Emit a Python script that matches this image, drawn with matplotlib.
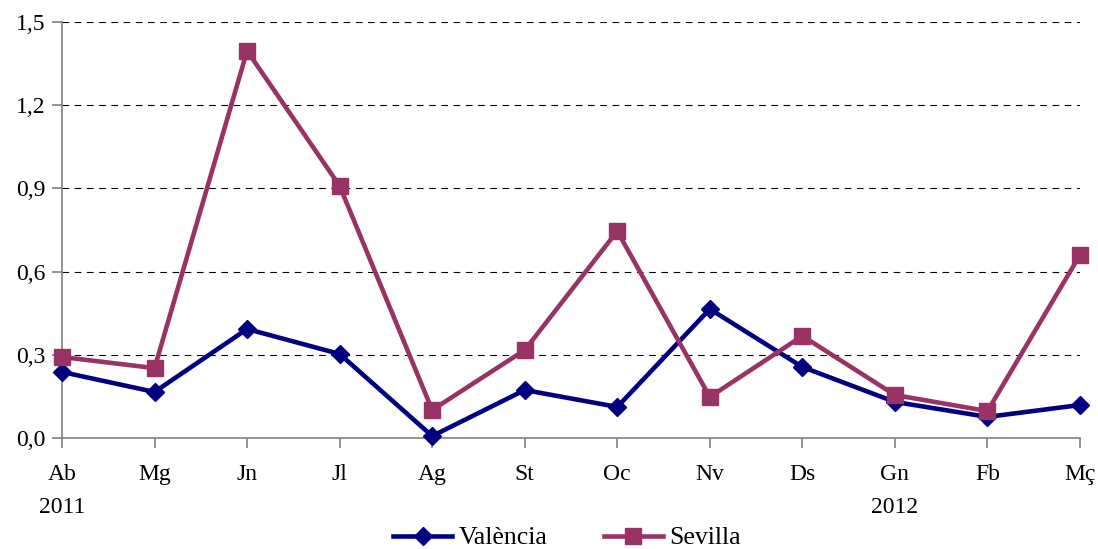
import matplotlib
matplotlib.use("Agg")
import matplotlib.pyplot as plt
from matplotlib.ticker import FuncFormatter

plt.rcParams['font.family'] = ['Liberation Serif', 'DejaVu Serif']

months = ["Ab", "Mg", "Jn", "Jl", "Ag", "St", "Oc", "Nv", "Ds", "Gn", "Fb", "Mç"]
years = {0: "2011", 9: "2012"}
valencia = [0.238, 0.166, 0.393, 0.303, 0.007, 0.173, 0.112, 0.465, 0.256, 0.130, 0.076, 0.119]
sevilla = [0.292, 0.252, 1.396, 0.909, 0.101, 0.317, 0.746, 0.148, 0.368, 0.155, 0.097, 0.660]
yticks = [0.0, 0.3, 0.6, 0.9, 1.2, 1.5]

fig = plt.figure(figsize=(10.98, 5.49), dpi=100)
ax = fig.add_axes([62/1098, 1-438/549, (1080-62)/1098, (438-22)/549])

x = list(range(len(months)))
for y in yticks[1:]:
    ax.axhline(y, color='black', lw=0.8, ls=(0, (6, 5)), zorder=1)

ax.plot(x, valencia, color='#000080', lw=3.3, marker='D', markersize=9.5, label='València',
        zorder=3, clip_on=False)
ax.plot(x, sevilla, color='#993366', lw=3.3, marker='s', markersize=11.5, label='Sevilla',
        zorder=4, clip_on=False)

ax.set_xlim(0, 11)
ax.set_ylim(0, 1.5)
ax.set_yticks(yticks)
ax.yaxis.set_major_formatter(FuncFormatter(lambda v, p: f"{v:.1f}".replace('.', ',')))
ax.set_xticks(x)
ax.set_xticklabels([m + ("\n" + years[i] if i in years else "\n") for i, m in enumerate(months)])

for s in ['top', 'right']:
    ax.spines[s].set_visible(False)
for s in ['left', 'bottom']:
    ax.spines[s].set_color('#808080')
    ax.spines[s].set_linewidth(1.2)
ax.tick_params(axis='both', colors='#808080', labelcolor='black', labelsize=17, length=7, width=1.2)
ax.tick_params(axis='x', pad=12)
ax.tick_params(axis='y', pad=5)
for lbl in ax.get_xticklabels():
    lbl.set_linespacing(1.75)

leg = fig.legend(loc='center', bbox_to_anchor=(567/1098, 1-538/549), ncol=2, frameon=False,
                 fontsize=18.5, handlelength=2.3, columnspacing=2.2, handletextpad=0.25)
fig.savefig("out.png", dpi=100)
